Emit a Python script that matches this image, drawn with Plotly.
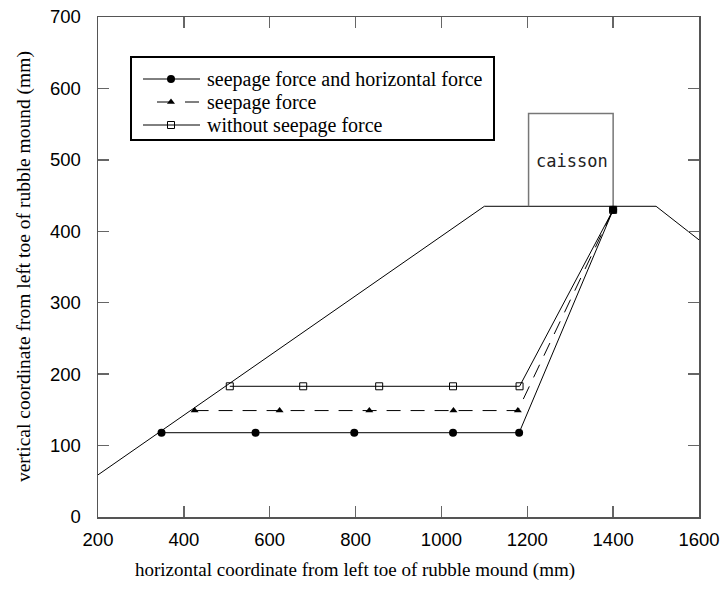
import plotly.graph_objects as go

# ---- data ----
mound_x = [200, 1100, 1500, 1600]
mound_y = [59, 435, 435, 388]

caisson_x = [1203, 1203, 1400, 1400]
caisson_y = [435, 565, 565, 435]

s1_name = "seepage force and horizontal force"
s1_x = [348, 567, 797, 1027, 1181, 1400]
s1_y = [118, 118, 118, 118, 118, 430]

s2_name = "seepage force"
s2_x = [425, 623, 832, 1028, 1178, 1400]
s2_y = [149, 149, 149, 149, 149, 430]

s3_name = "without seepage force"
s3_x = [507, 678, 855, 1027, 1182, 1400]
s3_y = [183, 183, 183, 183, 183, 430]

x_ticks = [200, 400, 600, 800, 1000, 1200, 1400, 1600]
y_ticks = [0, 100, 200, 300, 400, 500, 600, 700]

x_title = "horizontal coordinate from left toe of rubble mound (mm)"
y_title = "vertical coordinate from left toe of rubble mound (mm)"

serif = "Liberation Serif, Times New Roman, serif"
tickfont = "Liberation Sans, Arial, sans-serif"

# series styles
styles = [
    dict(name=s1_name, x=s1_x, y=s1_y, dash="solid",
         marker=dict(symbol="circle", size=8, color="black")),
    dict(name=s2_name, x=s2_x, y=s2_y, dash="14px,10px",
         marker=dict(symbol="triangle-up", size=7, color="black")),
    dict(name=s3_name, x=s3_x, y=s3_y, dash="solid",
         marker=dict(symbol="square-open", size=7, color="black",
                     line=dict(width=1, color="black"))),
]

fig = go.Figure()

fig.add_trace(go.Scatter(x=mound_x, y=mound_y, mode="lines",
                         line=dict(color="black", width=1), showlegend=False,
                         hoverinfo="skip"))
fig.add_trace(go.Scatter(x=caisson_x, y=caisson_y, mode="lines",
                         line=dict(color="#777777", width=1.5), showlegend=False,
                         hoverinfo="skip"))

for s in styles:
    fig.add_trace(go.Scatter(x=s["x"], y=s["y"], mode="lines+markers", name=s["name"],
                             line=dict(color="black", width=1, dash=s["dash"]),
                             marker=s["marker"], showlegend=False))

fig.add_annotation(x=1305, y=498, text="caisson", showarrow=False,
                   font=dict(family="DejaVu Sans Mono, monospace", size=17, color="#222"))

# ---- legend drawn on a pixel-like overlay axis ----
leg_box = (131, 57, 494, 140)
leg_rows = [79, 102, 125]
leg_line = [(143, 200), (157, 200), (143, 200)]
leg_dash = ["solid", "14px,14px", "solid"]
leg_mark_x = 171
leg_text_x = 205

fig.add_shape(type="rect", xref="x2", yref="y2",
              x0=leg_box[0], y0=leg_box[1], x1=leg_box[2], y1=leg_box[3],
              line=dict(color="black", width=2), fillcolor="white", layer="below")
for s, ry, (lx0, lx1), d in zip(styles, leg_rows, leg_line, leg_dash):
    fig.add_shape(type="line", xref="x2", yref="y2", x0=lx0, x1=lx1, y0=ry, y1=ry,
                  line=dict(color="black", width=1, dash=d))
    fig.add_trace(go.Scatter(x=[leg_mark_x], y=[ry], mode="markers", xaxis="x2", yaxis="y2",
                             marker=s["marker"], showlegend=False, hoverinfo="skip"))
    fig.add_annotation(xref="x2", yref="y2", x=leg_text_x, y=ry, text=s["name"],
                       xanchor="left", yanchor="middle", showarrow=False,
                       font=dict(family=serif, size=20, color="black"))

# axis titles
fig.add_annotation(xref="paper", yref="paper", x=0.4276, y=-0.106,
                   xanchor="center", yanchor="middle", showarrow=False,
                   text=x_title, font=dict(family=serif, size=19, color="black"))
fig.add_annotation(xref="paper", yref="paper", x=-0.123, y=0.5,
                   xanchor="center", yanchor="middle", showarrow=False, textangle=-90,
                   text=y_title, font=dict(family=serif, size=19.5, color="black"))

axis_common = dict(showline=True, mirror="ticks", linecolor="#555555", linewidth=1.5,
                   ticks="inside", ticklen=11, tickwidth=1.5, tickcolor="#666666",
                   showgrid=False, zeroline=False, automargin=False,
                   ticklabeloverflow="allow",
                   tickfont=dict(family=tickfont, size=18.5, color="black"))

fig.update_xaxes(range=[200, 1600], tickvals=x_ticks, ticklabelstandoff=5, **axis_common)
fig.update_yaxes(range=[0, 700], tickvals=y_ticks, ticklabelstandoff=12, **axis_common)

fig.update_layout(
    width=721, height=597,
    margin=dict(l=98, r=22, t=17, b=80),
    plot_bgcolor="white", paper_bgcolor="white",
    showlegend=False,
    xaxis2=dict(overlaying="x", anchor="y2", range=[98, 699], visible=False, fixedrange=True),
    yaxis2=dict(overlaying="y", anchor="x2", range=[517, 17], visible=False, fixedrange=True),
)

fig.write_html("out.html",
               config=dict(displayModeBar=False, staticPlot=True),
               post_script="document.body.style.margin='0';document.body.style.overflow='hidden';")
